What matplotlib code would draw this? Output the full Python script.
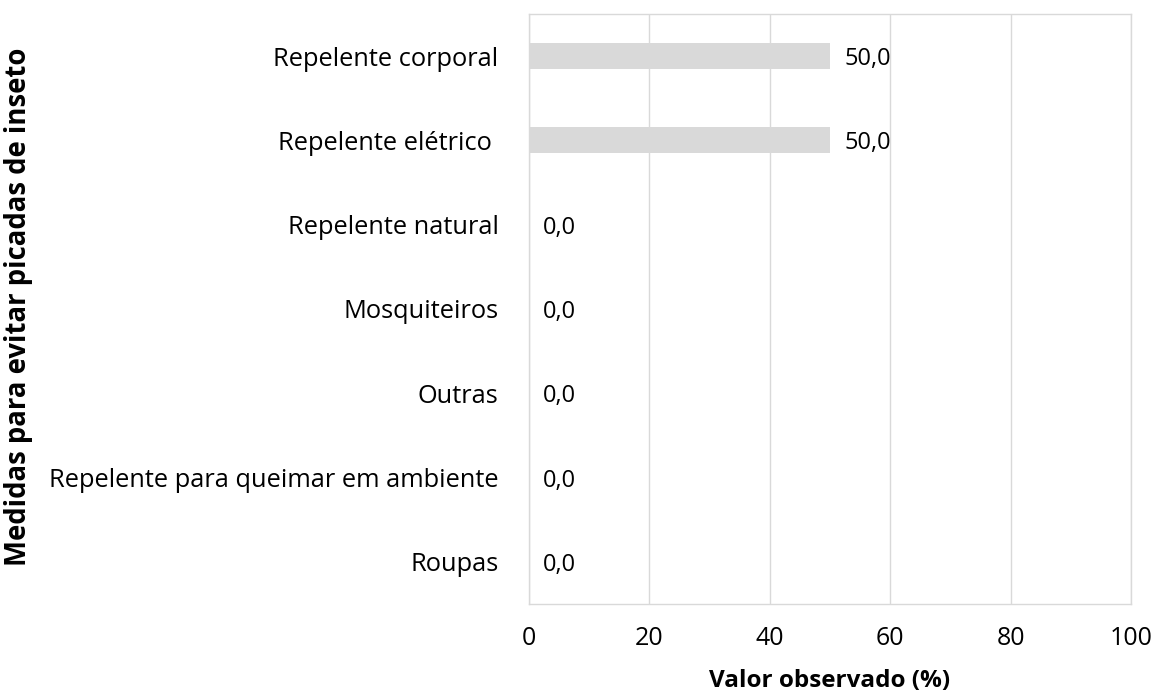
import matplotlib
matplotlib.use("Agg")
import matplotlib.pyplot as plt

categories = [
    "Repelente corporal",
    "Repelente elétrico ",
    "Repelente natural",
    "Mosquiteiros",
    "Outras",
    "Repelente para queimar em ambiente",
    "Roupas",
]
values = [50.0, 50.0, 0.0, 0.0, 0.0, 0.0, 0.0]
xticks = [0, 20, 40, 60, 80, 100]

plt.rcParams["font.family"] = ["Open Sans", "DejaVu Sans"]

fig = plt.figure(figsize=(11.53, 6.95), dpi=100)
ax = fig.add_axes([0.4588, 0.131, 0.9810 - 0.4588, 0.980 - 0.131])

grid_col = "#d9d9d9"
ypos = list(range(len(categories)))
ax.barh(ypos, values, height=0.31, color="#d9d9d9", zorder=2)

for y, v in zip(ypos, values):
    ax.annotate(f"{v:.1f}".replace(".", ","), xy=(v, y), xytext=(14, -3),
                textcoords="offset pixels",
                va="center", ha="left", fontsize=17, color="black")

ax.set_xlim(0, 100)
ax.set_ylim(len(categories) - 0.5, -0.5)
ax.set_xticks(xticks)
ax.set_xticklabels([str(t) for t in xticks])
ax.set_yticks(ypos)
ax.set_yticklabels(categories)
ax.tick_params(axis="both", length=0, labelsize=18)
ax.tick_params(axis="y", labelsize=18.3, pad=22)
ax.tick_params(axis="x", pad=16)

ax.xaxis.grid(True, color=grid_col, linewidth=1, zorder=0)
ax.set_axisbelow(True)
for s in ax.spines.values():
    s.set_color(grid_col)
    s.set_linewidth(1)

ax.set_xlabel("Valor observado (%)", fontsize=17.5, fontweight="bold", labelpad=13)
fig.text(0.016, 0.558, "Medidas para evitar picadas de inseto", rotation=90,
         ha="center", va="center", fontsize=19.8, fontweight="bold")

fig.savefig("out.png", dpi=100)
